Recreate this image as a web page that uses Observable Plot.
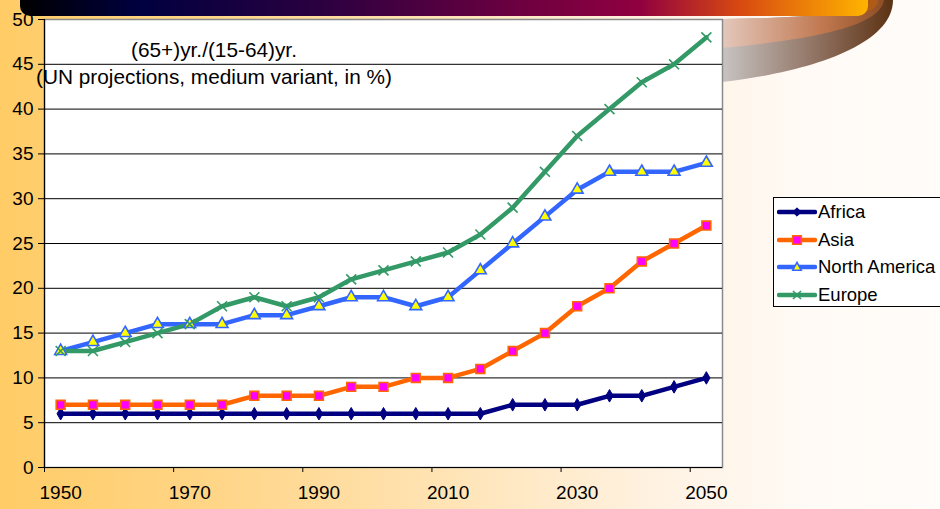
<!DOCTYPE html>
<html>
<head>
<meta charset="utf-8">
<script src="https://cdn.jsdelivr.net/npm/d3@7"></script>
<script src="https://cdn.jsdelivr.net/npm/@observablehq/plot@0.6"></script>
<style>
  html, body { margin: 0; padding: 0; }
  #wrap { position: relative; width: 940px; height: 509px; overflow: hidden;
    background: linear-gradient(to right, #FFCC66 0%, #FFD586 22%, #FFE2B0 45%, #FFF2E2 70%, #FFFAF5 85%, #FFFCF9 100%);
    font-family: Arial, "Liberation Sans", sans-serif; }
  #deco { position: absolute; left: 0; top: 0; }
  #chart { position: absolute; left: 0; top: 0; }
  .title { position: absolute; width: 440px; left: -6px; text-align: center; font-size: 20.8px; color: #000; line-height: 27px; }
  #legend { position: absolute; left: 773px; top: 197px; width: 170px; height: 110px; background: #fff; border: 1px solid #000; box-sizing: border-box; }
  .item { position: absolute; left: 3px; height: 22px; display: flex; align-items: center; font-size: 18.5px; color: #000; white-space: nowrap; }
  .item svg { margin-right: 1px; }
</style>
</head>
<body>
<div id="wrap">
  <svg id="deco" width="940" height="509">
    <defs>
      <linearGradient id="bar" x1="20" x2="868" y1="0" y2="0" gradientUnits="userSpaceOnUse">
        <stop offset="0" stop-color="#000000"/>
        <stop offset="0.14" stop-color="#000040"/>
        <stop offset="0.35" stop-color="#2A0040"/>
        <stop offset="0.6" stop-color="#700040"/>
        <stop offset="0.73" stop-color="#900040"/>
        <stop offset="0.85" stop-color="#D84A10"/>
        <stop offset="1" stop-color="#FFB400"/>
      </linearGradient>
      <linearGradient id="sw1" x1="722" x2="895" y1="0" y2="0" gradientUnits="userSpaceOnUse">
        <stop offset="0" stop-color="#C8C4C2"/>
        <stop offset="0.6" stop-color="#8A6A58"/>
        <stop offset="1" stop-color="#5A3010"/>
      </linearGradient>
      <linearGradient id="sw2" x1="722" x2="890" y1="0" y2="0" gradientUnits="userSpaceOnUse">
        <stop offset="0" stop-color="#E4C8BC"/>
        <stop offset="0.6" stop-color="#C07850"/>
        <stop offset="1" stop-color="#8A4A20"/>
      </linearGradient>
    </defs>
    <path d="M722,82 C810,72 893,45 893,0 L866,0 C866,14 800,18 722,19 Z" fill="url(#sw1)"/>
    <path d="M722,48 C805,40 880,28 884,0 L866,0 C866,14 800,18 722,19 Z" fill="url(#sw2)"/>
    <path d="M840,16 C870,14 878,8 878,0 L866,0 Z" fill="#B05A18"/>
    <rect x="20" y="-12" width="848" height="28" rx="10" fill="url(#bar)"/>
  </svg>
  <div id="chart"></div>
  <div class="title" style="top:36px;">(65+)yr./(15-64)yr.</div>
  <div class="title" style="top:63px;">(UN projections, medium variant, in %)</div>
  <div id="legend"></div>
</div>
<script>
const years = [1950,1955,1960,1965,1970,1975,1980,1985,1990,1995,2000,2005,2010,2015,2020,2025,2030,2035,2040,2045,2050];
const africa       = [6,6,6,6,6,6,6,6,6,6,6,6,6,6,7,7,7,8,8,9,10];
const asia         = [7,7,7,7,7,7,8,8,8,9,9,10,10,11,13,15,18,20,23,25,27];
const northAmerica = [13,14,15,16,16,16,17,17,18,19,19,18,19,22,25,28,31,33,33,33,34];
const europe       = [13,13,14,15,16,18,19,18,19,21,22,23,24,26,29,33,37,40,43,45,48];
const seriesNames  = ["Africa","Asia","North America","Europe"];
const seriesValues = [africa, asia, northAmerica, europe];
const yTicks = [0,5,10,15,20,25,30,35,40,45,50];
const xLabelYears = [1950,1970,1990,2010,2030,2050];

const styles = {
  "Africa":        {line:"#000080", symbol:"diamond",  fill:"#000080", stroke:"#000080", r:3.8, sw:1},
  "Asia":          {line:"#FF6600", symbol:"square",   fill:"#FF00FF", stroke:"#FF6600", r:5,   sw:1.6},
  "North America": {line:"#3366FF", symbol:"triangle", fill:"#FFFF00", stroke:"#3366FF", r:4.4, sw:1.6},
  "Europe":        {line:"#339966", symbol:"times",    fill:"none",    stroke:"#339966", r:4.6, sw:1.6}
};

const rows = seriesNames.flatMap((name, k) => years.map((year, i) => ({series: name, year, value: seriesValues[k][i]})));

// category half-width: years are 5 apart, so bands span +/- 2.5
const half = 2.5;
const xMin = years[0] - half, xMax = years[years.length - 1] + half;
const xTickMarks = xLabelYears.map(y => y - half);

const lineMarks = seriesNames.map(name => Plot.line(rows.filter(d => d.series === name), {
  x: "year", y: "value", stroke: styles[name].line, strokeWidth: 4.5, strokeLinejoin: "round", strokeLinecap: "round"
}));
const dotMarks = seriesNames.map(name => Plot.dot(rows.filter(d => d.series === name), {
  x: "year", y: "value", symbol: styles[name].symbol, r: styles[name].r,
  fill: styles[name].fill, stroke: styles[name].stroke, strokeWidth: styles[name].sw
}));

const chart = Plot.plot({
  width: 940, height: 509,
  marginLeft: 44, marginRight: 218, marginTop: 19, marginBottom: 42,
  x: {domain: [xMin, xMax]},
  y: {domain: [0, 50]},
  style: {background: "transparent", fontFamily: "Arial, 'Liberation Sans', sans-serif", fontSize: "19px", color: "#000"},
  marks: [
    Plot.frame({fill: "white", stroke: "#8a8a8a", strokeWidth: 1.5}),
    Plot.ruleY(yTicks.filter(v => v > 0 && v < 50), {stroke: "#000", strokeWidth: 1}),
    Plot.ruleY([0], {stroke: "#000", strokeWidth: 1.2}),
    Plot.ruleX([xMin], {stroke: "#000", strokeWidth: 1.2}),
    Plot.axisY({ticks: yTicks, tickSize: 6, tickPadding: 5, label: null, tickFormat: d => String(d), fontSize: 19}),
    Plot.axisX({ticks: xTickMarks, tickSize: 5, tickFormat: () => "", label: null}),
    Plot.axisX({ticks: xLabelYears, tickSize: 0, tickPadding: 18, tickFormat: d => String(d), label: null, fontSize: 19}),
    ...lineMarks,
    ...dotMarks
  ]
});
document.getElementById("chart").appendChild(chart);

// legend
const legend = document.getElementById("legend");
const symbolPaths = {
  diamond: "M0,-4.2L4.2,0L0,4.2L-4.2,0Z",
  square: "M-4.3,-4.3H4.3V4.3H-4.3Z",
  triangle: "M0,-4.6L4.2,3.2H-4.2Z",
  times: "M-4,-4L4,4M-4,4L4,-4"
};
seriesNames.forEach((name, i) => {
  const s = styles[name];
  const div = document.createElement("div");
  div.className = "item";
  div.style.top = (3 + i * 27.7) + "px";
  div.innerHTML = `<svg width="40" height="14" viewBox="-20 -7 40 14"><line x1="-18" x2="18" y1="0" y2="0" stroke="${s.line}" stroke-width="4.5" stroke-linecap="round"/><path d="${symbolPaths[s.symbol]}" fill="${s.fill}" stroke="${s.stroke}" stroke-width="${s.sw}"/></svg><span>${name}</span>`;
  legend.appendChild(div);
});
</script>
</body>
</html>
